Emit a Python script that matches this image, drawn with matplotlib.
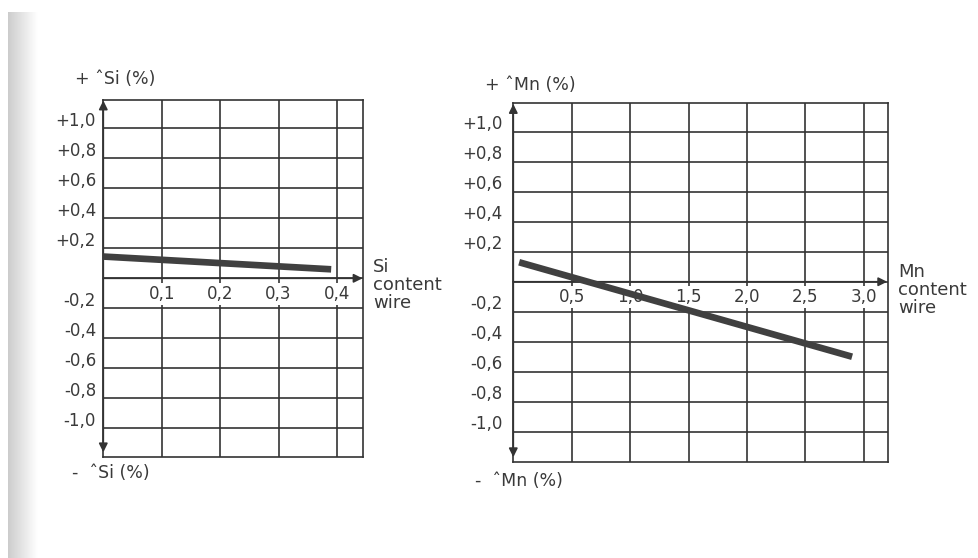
import numpy as np
import matplotlib
matplotlib.use("Agg")
import matplotlib.pyplot as plt

# ---- data ----
y_grid_values = [1.0, 0.8, 0.6, 0.4, 0.2, -0.2, -0.4, -0.6, -0.8, -1.0]
y_tick_labels = ["+1,0", "+0,8", "+0,6", "+0,4", "+0,2",
                 "-0,2", "-0,4", "-0,6", "-0,8", "-1,0"]

si_xticks = [0.1, 0.2, 0.3, 0.4]
si_xtick_labels = ["0,1", "0,2", "0,3", "0,4"]
si_x = [0.0, 0.39]
si_y = [0.145, 0.06]

mn_xticks = [0.5, 1.0, 1.5, 2.0, 2.5, 3.0]
mn_xtick_labels = ["0,5", "1,0", "1,5", "2,0", "2,5", "3,0"]
mn_x = [0.05, 2.9]
mn_y = [0.13, -0.50]

W, H = 979, 558
fig = plt.figure(figsize=(W / 100, H / 100), dpi=100)
fig.patch.set_facecolor("white")
plt.rcParams["font.family"] = ["DejaVu Sans"]

GRID = "#333333"
TXT = "#3a3a3a"
LINE = "#404040"

# scan edge gradient on the left
gax = fig.add_axes([8 / W, 0, 30 / W, 1 - 12 / H])
grad = np.linspace(0.80, 1.0, 100)[None, :]
gax.imshow(np.repeat(grad, 10, axis=0), cmap="gray", vmin=0, vmax=1,
           aspect="auto", extent=[0, 1, 0, 1])
gax.axis("off")


def px_axes(x0, x1, ytop, ybot):
    return fig.add_axes([x0 / W, 1 - ybot / H, (x1 - x0) / W, (ybot - ytop) / H])


def draw(ax, xlim, ylim, xticks, xlabels, dx, dy):
    ax.set_xlim(*xlim)
    ax.set_ylim(*ylim)
    ax.set_xticks([])
    ax.set_yticks([])
    for s in ax.spines.values():
        s.set_color(GRID)
        s.set_linewidth(1.2)
    for v in xticks:
        ax.axvline(v, color=GRID, lw=1.2, zorder=1)
    for v in y_grid_values:
        ax.axhline(v, color=GRID, lw=1.2, zorder=1)
    ax.axhline(0, color=GRID, lw=1.2, zorder=1)
    # y labels
    tr = ax.get_yaxis_transform()
    for v, lab in zip(y_grid_values, y_tick_labels):
        ax.text(-0.028, v + 0.05, lab, transform=tr, ha="right", va="center",
                fontsize=12, color=TXT, clip_on=False)
    # x labels
    for v, lab in zip(xticks, xlabels):
        ax.text(v, -0.105, lab, ha="center", va="center", fontsize=12,
                color=TXT, zorder=2,
                bbox=dict(boxstyle="square,pad=0.12", fc="white", ec="none"))
    # data line
    ax.plot(dx, dy, color=LINE, lw=4.8, solid_capstyle="butt", zorder=4)
    # axis arrows
    ap = dict(arrowstyle="-|>", color=GRID, lw=1.2, mutation_scale=13,
              shrinkA=0, shrinkB=0)
    ax.annotate("", xy=(0, ylim[1] - 0.005), xytext=(0, 0), arrowprops=ap,
                annotation_clip=False)
    ax.annotate("", xy=(0, ylim[0] + 0.03), xytext=(0, 0), arrowprops=ap,
                annotation_clip=False)
    ax.annotate("", xy=(xlim[1] * 0.997, 0), xytext=(0, 0), arrowprops=ap,
                annotation_clip=False)


ax1 = px_axes(103.3, 363.3, 99.8, 456.8)
draw(ax1, (0, 0.445), (-1.19, 1.19), si_xticks, si_xtick_labels, si_x, si_y)

ax2 = px_axes(513.3, 888.3, 103.3, 461.7)
draw(ax2, (0, 3.21), (-1.2, 1.19), mn_xticks, mn_xtick_labels, mn_x, mn_y)


def ftext(x, y, s, **kw):
    fig.text(x / W, 1 - y / H, s, fontsize=12.5, color=TXT, va="center", **kw)


ftext(75, 79, "+ \u02c6Si (%)")
ftext(72, 473, "-  \u02c6Si (%)")
ftext(485, 85, "+ \u02c6Mn (%)")
ftext(475, 481, "-  \u02c6Mn (%)")

fig.text(373 / W, 1 - 285 / H, "Si\ncontent\nwire", fontsize=13, color=TXT,
         va="center", ha="left", linespacing=1.0)
fig.text(898 / W, 1 - 290 / H, "Mn\ncontent\nwire", fontsize=13, color=TXT,
         va="center", ha="left", linespacing=1.0)

fig.savefig("out.png", dpi=100, facecolor="white")
